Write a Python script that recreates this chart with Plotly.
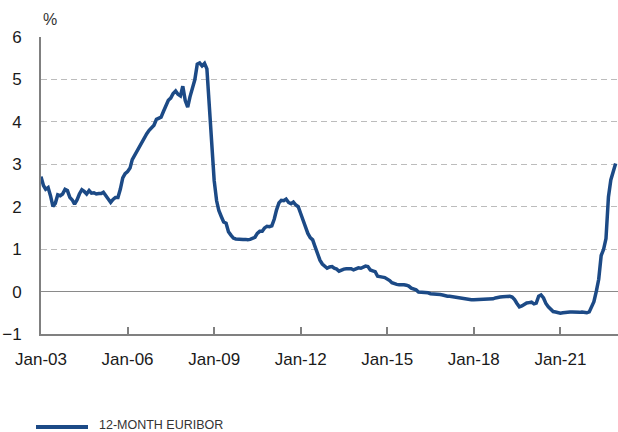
import pandas as pd
import plotly.graph_objects as go

# 12-month Euribor, monthly, Jan 2003 - Dec 2022 (%)
months = pd.date_range("2003-01-01", "2022-12-01", freq="MS")

euribor_12m = [
    # 2003
    2.71, 2.50, 2.41, 2.45, 2.26, 2.01, 2.08, 2.28, 2.26, 2.30, 2.41, 2.38,
    # 2004
    2.22, 2.16, 2.06, 2.16, 2.30, 2.40, 2.36, 2.30, 2.38, 2.32, 2.33, 2.30,
    # 2005
    2.31, 2.31, 2.34, 2.27, 2.19, 2.10, 2.17, 2.22, 2.22, 2.41, 2.68, 2.78,
    # 2006
    2.83, 2.91, 3.11, 3.22, 3.31, 3.40, 3.54, 3.62, 3.72, 3.80, 3.86, 3.92,
    # 2007
    4.06, 4.09, 4.11, 4.25, 4.37, 4.51, 4.56, 4.67, 4.73, 4.65, 4.61, 4.84,
    # 2008
    4.50, 4.35, 4.59, 4.82, 4.99, 5.36, 5.39, 5.32, 5.38, 5.25, 4.35, 3.45,
    # 2009
    2.62, 2.14, 1.91, 1.77, 1.64, 1.61, 1.41, 1.33, 1.26, 1.24, 1.23, 1.24,
    # 2010
    1.23, 1.23, 1.22, 1.23, 1.25, 1.28, 1.37, 1.42, 1.42, 1.50, 1.54, 1.53,
    # 2011
    1.55, 1.71, 1.92, 2.09, 2.15, 2.14, 2.18, 2.10, 2.07, 2.11, 2.04, 2.00,
    # 2012
    1.84, 1.68, 1.50, 1.37, 1.27, 1.22, 1.06, 0.88, 0.74, 0.65, 0.59, 0.55,
    # 2013
    0.58, 0.59, 0.55, 0.53, 0.48, 0.51, 0.53, 0.54, 0.54, 0.54, 0.51, 0.54,
    # 2014
    0.56, 0.55, 0.58, 0.60, 0.59, 0.51, 0.49, 0.47, 0.36, 0.34, 0.34, 0.33,
    # 2015
    0.30, 0.26, 0.21, 0.18, 0.17, 0.16, 0.17, 0.16, 0.15, 0.13, 0.08, 0.06,
    # 2016
    0.04, -0.01, -0.01, -0.01, -0.01, -0.03, -0.05, -0.05, -0.06, -0.07, -0.07, -0.08,
    # 2017
    -0.10, -0.11, -0.11, -0.12, -0.13, -0.15, -0.15, -0.16, -0.17, -0.18, -0.19, -0.19,
    # 2018
    -0.19, -0.19, -0.19, -0.19, -0.19, -0.18, -0.18, -0.17, -0.17, -0.15, -0.15, -0.13,
    # 2019
    -0.12, -0.11, -0.11, -0.11, -0.13, -0.19, -0.28, -0.36, -0.34, -0.30, -0.27, -0.26,
    # 2020
    -0.25, -0.29, -0.27, -0.11, -0.08, -0.15, -0.28, -0.36, -0.41, -0.47, -0.48, -0.50,
    # 2021
    -0.51, -0.50, -0.49, -0.48, -0.48, -0.48, -0.49, -0.50, -0.49, -0.48, -0.49, -0.50,
    # 2022
    -0.48, -0.34, -0.24, 0.01, 0.29, 0.85, 0.99, 1.25, 2.23, 2.63, 2.83, 3.02,
]

x_tick_dates = ["2003-01-01", "2006-01-01", "2009-01-01", "2012-01-01",
                "2015-01-01", "2018-01-01", "2021-01-01"]
x_tick_labels = ["Jan-03", "Jan-06", "Jan-09", "Jan-12", "Jan-15", "Jan-18", "Jan-21"]
y_ticks = [-1, 0, 1, 2, 3, 4, 5, 6]

series_name = "12-MONTH EURIBOR"
line_color = "#1c4a86"
axis_gray = "#808080"
font_family = "Liberation Sans, Arial, Helvetica, sans-serif"

fig = go.Figure()
fig.add_trace(go.Scatter(
    x=months, y=euribor_12m, mode="lines", name=series_name,
    line=dict(color=line_color, width=3.5), showlegend=False,
))

fig.update_layout(
    width=618, height=432,
    margin=dict(l=41, r=0, t=37, b=98),
    paper_bgcolor="white", plot_bgcolor="white",
    font=dict(family=font_family, size=17, color="#1a1a1a"),
    xaxis=dict(
        range=["2003-01-01", "2022-12-31"],
        tickmode="array", tickvals=x_tick_dates, ticktext=x_tick_labels,
        ticks="inside", ticklen=7, tickwidth=1.5, tickcolor=axis_gray,
        showline=True, linecolor=axis_gray, linewidth=2,
        showgrid=False, zeroline=False,
        ticklabelstandoff=9,
        tickfont=dict(size=17),
    ),
    yaxis=dict(
        range=[-1, 6],
        tickmode="array", tickvals=y_ticks,
        ticks="", showline=True, linecolor=axis_gray, linewidth=2,
        showgrid=True, gridcolor="#bcbcbc", gridwidth=1, griddash="6px,4px",
        zeroline=True, zerolinecolor="#8a8a8a", zerolinewidth=1,
        ticklabelstandoff=14,
        tickfont=dict(size=17),
    ),
)

# unit label above the value axis
fig.add_annotation(
    xref="paper", yref="paper", x=0, y=1, xanchor="left", yanchor="bottom",
    yshift=7, text="%", showarrow=False, font=dict(size=16, color="#333333"),
)

# series key below the chart
fig.add_shape(
    type="line", xref="paper", yref="paper",
    x0=-5 / 577, x1=47 / 577, y0=-93 / 297, y1=-93 / 297,
    line=dict(color=line_color, width=4),
)
fig.add_annotation(
    xref="paper", yref="paper", x=56 / 577, y=-93 / 297,
    xanchor="left", yanchor="middle", yshift=2,
    text=series_name, showarrow=False,
    font=dict(family=font_family, size=12.5, color="#333333"),
)

fig.write_html("out.html")
